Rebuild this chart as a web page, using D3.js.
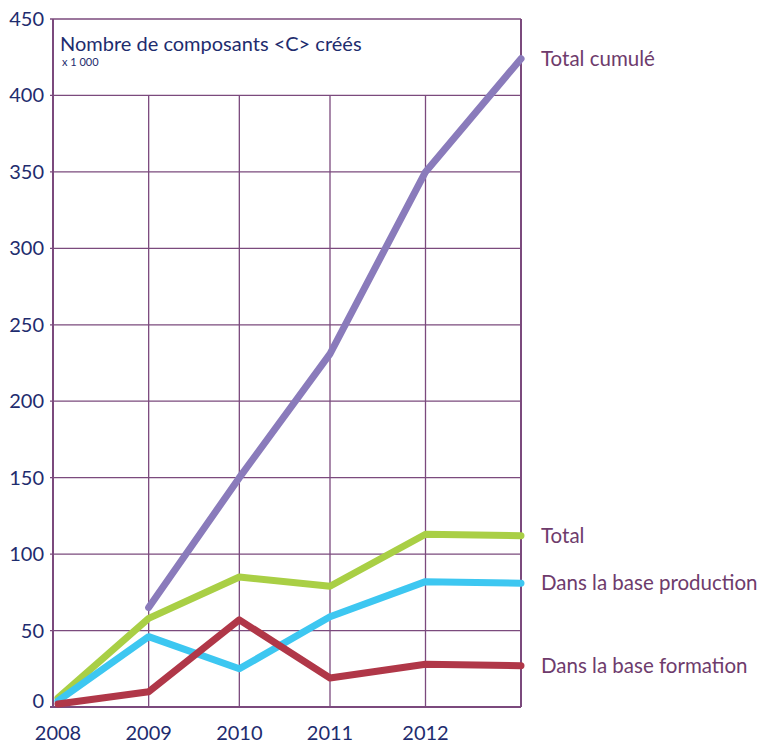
<!DOCTYPE html>
<html>
<head>
<meta charset="utf-8">
<script src="https://cdn.jsdelivr.net/npm/d3@7"></script>
<style>
  body { margin: 0; background: #fff; }
  svg { display: block; font-family: 'Lato', 'Open Sans', sans-serif; }
</style>
</head>
<body>
<div id="chart"></div>
<script>
const width = 759;
const height = 743;

const years = [2008, 2009, 2010, 2011, 2012, 2013];
const yearLabels = [2008, 2009, 2010, 2011, 2012];
const yTicks = [0, 50, 100, 150, 200, 250, 300, 350, 400, 450];

const totalCumule = [null, 65, 150, 231, 350, 424];
const total = [6, 58, 85, 79, 113, 112];
const baseProduction = [4, 46, 25, 59, 82, 81];
const baseFormation = [2, 10, 57, 19, 28, 27];

const seriesNames = ['Total cumulé', 'Total', 'Dans la base production', 'Dans la base formation'];
const seriesColors = ['#8a7bbb', '#a9cf45', '#3dc7f1', '#b03748'];
const seriesValues = [totalCumule, total, baseProduction, baseFormation];

const gridColor = '#7b4a7d';
const textNavy = '#1e2c6e';
const labelColor = '#6e3b6c';

const svg = d3.select('#chart')
    .append('svg')
    .attr('width', width)
    .attr('height', height);

// the year columns of the original are not quite evenly spaced
const x = d3.scaleLinear()
    .domain([2008, 2011, 2013])
    .range([58, 330, 521]);

const y = d3.scaleLinear()
    .domain([0, 450])
    .range([707, 19]);

const left = 53;
const right = 521;

// GRID
const grid = svg.append('g');

grid.selectAll('.hline')
    .data(yTicks)
    .enter()
    .append('line')
    .attr('x1', left - 3)
    .attr('x2', right)
    .attr('y1', d => y(d))
    .attr('y2', d => y(d))
    .attr('stroke', gridColor)
    .attr('stroke-width', d => d === 0 ? 2 : 1.3);

// vertical lines for the years, stop under the title box
grid.selectAll('.vline')
    .data(years.slice(1, -1))
    .enter()
    .append('line')
    .attr('x1', d => x(d))
    .attr('x2', d => x(d))
    .attr('y1', y(400))
    .attr('y2', y(0))
    .attr('stroke', gridColor)
    .attr('stroke-width', 1.3);

grid.selectAll('.edge')
    .data([left, right])
    .enter()
    .append('line')
    .attr('x1', d => d)
    .attr('x2', d => d)
    .attr('y1', y(450))
    .attr('y2', y(0))
    .attr('stroke', gridColor)
    .attr('stroke-width', 2);

// AXES LABELS
svg.append('g')
    .selectAll('text')
    .data(yTicks)
    .enter()
    .append('text')
    .attr('x', 44)
    .attr('y', d => d === 0 ? y(d) - 6 : y(d))
    .attr('dy', '0.35em')
    .attr('text-anchor', 'end')
    .attr('fill', textNavy)
    .style('font-size', '20px')
    .text(d => d);

svg.append('g')
    .selectAll('text')
    .data(yearLabels)
    .enter()
    .append('text')
    .attr('x', d => x(d))
    .attr('y', 733)
    .attr('dy', '0.35em')
    .attr('text-anchor', 'middle')
    .attr('fill', textNavy)
    .style('font-size', '20px')
    .text(d => d);

// TITLE
svg.append('text')
    .attr('x', 60)
    .attr('y', 51)
    .attr('fill', textNavy)
    .style('font-size', '20px')
    .text('Nombre de composants <C> créés');

svg.append('text')
    .attr('x', 62)
    .attr('y', 66)
    .attr('fill', textNavy)
    .style('font-size', '11px')
    .text('x 1 000');

// LINES
const line = d3.line()
    .defined(d => d !== null)
    .x((d, i) => x(years[i]))
    .y(d => y(d));

svg.append('g')
    .selectAll('path')
    .data(seriesValues)
    .enter()
    .append('path')
    .attr('d', d => line(d))
    .attr('fill', 'none')
    .attr('stroke', (d, i) => seriesColors[i])
    .attr('stroke-width', 7)
    .attr('stroke-linecap', 'round')
    .attr('stroke-linejoin', 'round');

// SERIES LABELS, next to the last value of each line
svg.append('g')
    .selectAll('text')
    .data(seriesNames)
    .enter()
    .append('text')
    .attr('x', 541)
    .attr('y', (d, i) => y(seriesValues[i][5]))
    .attr('dy', '0.35em')
    .attr('fill', labelColor)
    .style('font-size', '20.5px')
    .text(d => d);
</script>
</body>
</html>
